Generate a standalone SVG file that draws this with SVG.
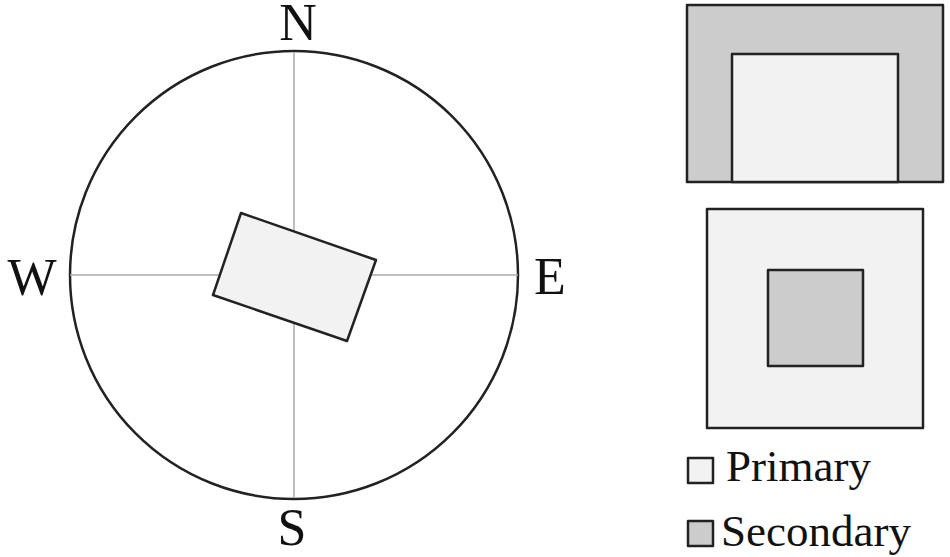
<svg xmlns="http://www.w3.org/2000/svg" width="950" height="557" viewBox="0 0 950 557">
<style>
.lbl{font-family:"Liberation Serif","Times New Roman",serif;fill:#111;}
.cmp{font-size:52px;text-anchor:middle;}
.leg{font-size:45px;}
.ol{stroke:#222;stroke-width:2.5;stroke-linejoin:round;}
.pri{fill:#f2f2f2;}
.sec{fill:#cccccc;}
.axis{stroke:#aaaaaa;stroke-width:1.5;fill:none;}
</style>
<rect width="950" height="557" fill="#ffffff"/>
<g id="compass">
<circle cx="294" cy="275" r="224" fill="none" stroke="#222" stroke-width="2.5"/>
<g id="axes">
<line class="axis" x1="294" y1="52" x2="294" y2="498"/>
<line class="axis" x1="70" y1="275" x2="518" y2="275"/>
</g>
<polygon id="building" class="ol pri" points="241,213 376,260 347,341 213,295"/>
<text class="lbl cmp" x="298" y="40">N</text>
<text class="lbl cmp" x="32" y="295">W</text>
<text class="lbl cmp" x="550" y="294">E</text>
<text class="lbl cmp" x="292" y="545">S</text>
</g>
<g id="plan-top">
<rect class="ol sec" x="687" y="5" width="256" height="177"/>
<rect class="ol pri" x="732" y="54" width="166" height="128"/>
</g>
<g id="plan-bottom">
<rect class="ol pri" x="707" y="209" width="216" height="219"/>
<rect class="ol sec" x="768" y="270" width="95" height="96"/>
</g>
<g id="legend">
<rect class="ol pri" x="688" y="458" width="25" height="25" stroke-width="2"/>
<text class="lbl leg" x="726" y="481">Primary</text>
<rect class="ol sec" x="688" y="521" width="25" height="25" stroke-width="2"/>
<text class="lbl leg" x="721" y="546">Secondary</text>
</g>
</svg>
